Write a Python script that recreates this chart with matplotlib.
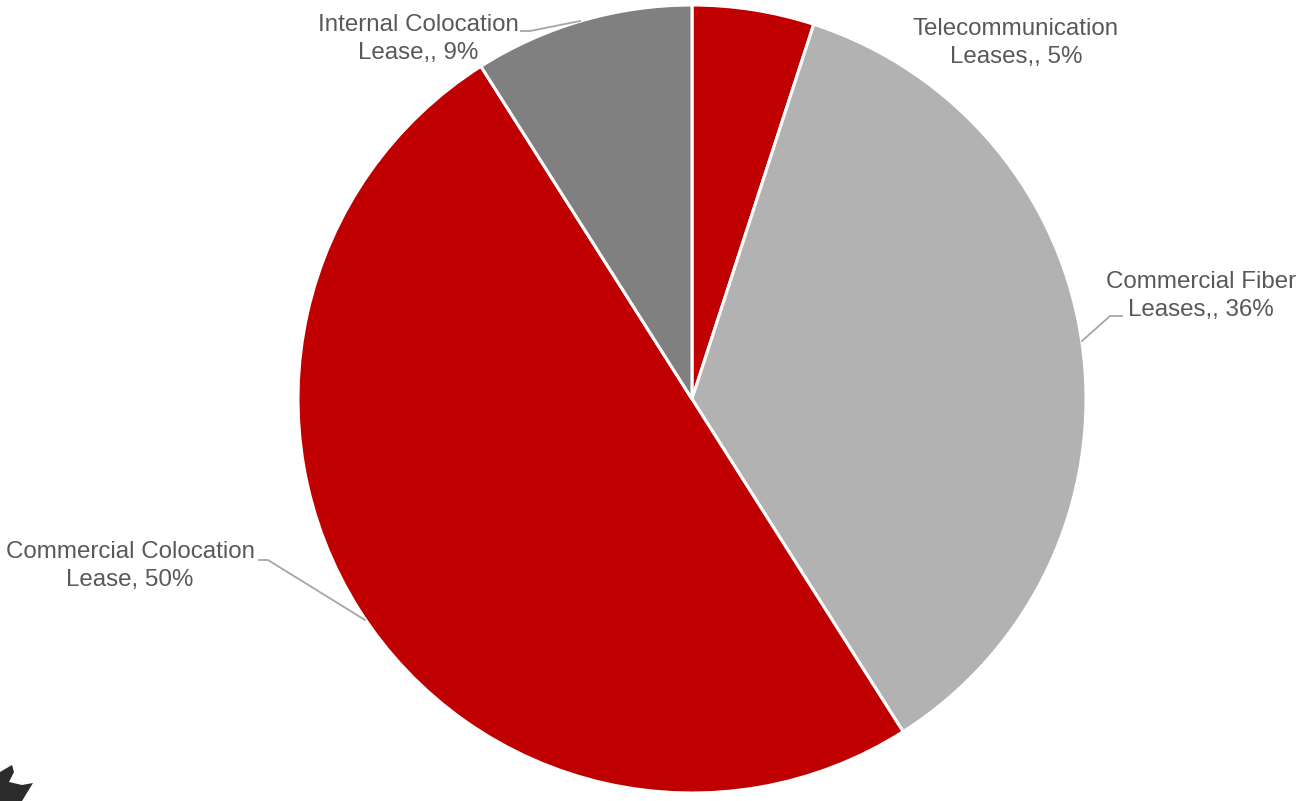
import matplotlib
matplotlib.use("Agg")
import matplotlib.pyplot as plt
from matplotlib.patches import Polygon

# Lease revenue share by category
categories = ["Telecommunication\nLeases,, 5%",
              "Commercial Fiber\nLeases,, 36%",
              "Commercial Colocation\nLease, 50%",
              "Internal Colocation\nLease,, 9%"]
shares = [5, 36, 50, 9]
colors = ["#C00000", "#B2B2B2", "#C00000", "#808080"]

W, H = 1307, 801
fig = plt.figure(figsize=(W / 100, H / 100), dpi=100)
ax = fig.add_axes([0, 0, 1, 1])
ax.set_xlim(0, W)
ax.set_ylim(0, H)
ax.set_aspect("equal")
ax.axis("off")

cx, cy, r = 692, H - 399, 394
ax.pie(shares, colors=colors, startangle=90, counterclock=False,
       center=(cx, cy), radius=r,
       wedgeprops=dict(edgecolor="white", linewidth=2.2))
ax.set_xlim(0, W)
ax.set_ylim(0, H)

label_pos = [(1016, 43), (1201, 296), (130, 566), (418, 39)]
for text, (x, y) in zip(categories, label_pos):
    ax.text(x, H - y, text, ha="center", va="center", fontsize=17.4,
            color="#595959", linespacing=1.32,
            family=["Liberation Sans", "DejaVu Sans"])

# leader lines
leader = "#A6A6A6"
ax.plot([521, 530, 580], [H - 31, H - 31, H - 21], color=leader, lw=1.3)
ax.plot([1122, 1110, 1082], [H - 316, H - 316, H - 341], color=leader, lw=1.3)
ax.plot([259, 268, 365], [H - 560, H - 560, H - 620], color=leader, lw=1.3)

# corner logo fragment
ax.add_patch(Polygon([(0, H - 772), (12, H - 765), (14, H - 772), (9, H - 782),
                      (22, H - 785), (33, H - 783), (22, H - 801), (0, H - 801)],
                     closed=True, color="#2B2B2B", lw=0))

fig.savefig("out.png", dpi=100, facecolor="white")
